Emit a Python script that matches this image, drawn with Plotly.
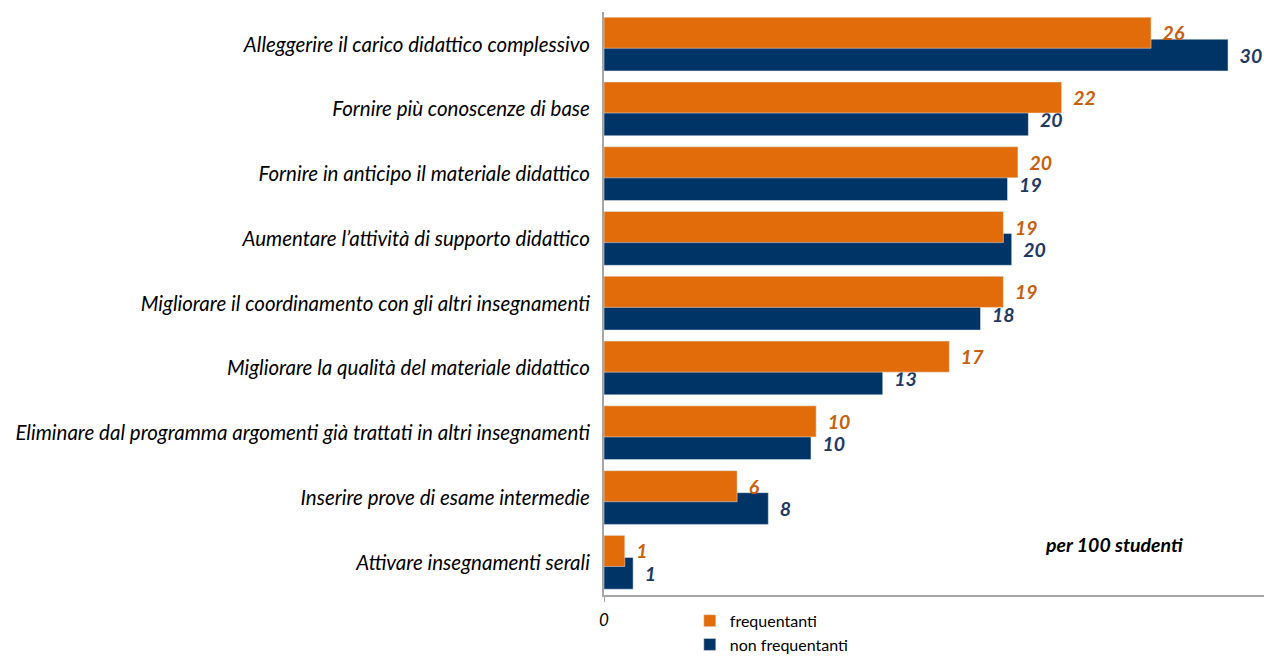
import plotly.graph_objects as go

categories = [
    "Alleggerire il carico didattico complessivo",
    "Fornire più conoscenze di base",
    "Fornire in anticipo il materiale didattico",
    "Aumentare l’attività di supporto didattico",
    "Migliorare il coordinamento con gli altri insegnamenti",
    "Migliorare la qualità del materiale didattico",
    "Eliminare dal programma argomenti già trattati in altri insegnamenti",
    "Inserire prove di esame intermedie",
    "Attivare insegnamenti serali",
]
frequentanti = [26.3, 22.0, 19.9, 19.2, 19.2, 16.6, 10.2, 6.4, 1.0]
non_frequentanti = [30.0, 20.4, 19.4, 19.6, 18.1, 13.4, 9.95, 7.9, 1.4]

ORANGE = "#E36C0A"
NAVY = "#003366"
FONT = "Lato"

fig = go.Figure()
# navy first so the orange bar is drawn over the overlap
fig.add_trace(go.Bar(
    name="non frequentanti", y=categories, x=non_frequentanti, orientation="h",
    marker_color=NAVY, width=0.49, offset=-0.08,
    texttemplate="  %{x:.0f}", textposition="outside", constraintext="none",
    textfont=dict(family=FONT, size=19.5, color="#1F3864", weight="bold", style="italic"),
    cliponaxis=False, legendrank=2,
))
fig.add_trace(go.Bar(
    name="frequentanti", y=categories, x=frequentanti, orientation="h",
    marker_color=ORANGE, width=0.48, offset=-0.42,
    texttemplate="  %{x:.0f}", textposition="outside", constraintext="none",
    textfont=dict(family=FONT, size=19.5, color="#C9600E", weight="bold", style="italic"),
    cliponaxis=False, legendrank=1,
))

fig.update_layout(
    width=1264, height=658,
    margin=dict(l=604, r=0, t=12, b=63, autoexpand=False),
    barmode="overlay",
    plot_bgcolor="white", paper_bgcolor="white",
    font=dict(family=FONT, color="#000000"),
    showlegend=True,
    legend=dict(x=0.13, y=-0.015, xanchor="left", yanchor="top",
                font=dict(family=FONT, size=16), tracegroupgap=0, itemwidth=30),
    annotations=[dict(text="per 100 studenti", x=0.88, y=0.086, xref="paper", yref="paper",
                      xanchor="right", yanchor="middle", showarrow=False,
                      font=dict(family=FONT, size=19.5, weight="bold", style="italic"))],
)
fig.update_yaxes(
    autorange="reversed", showline=True, linecolor="#A6A6A6", linewidth=2,
    ticks="", ticklabelstandoff=8,
    tickfont=dict(family=FONT, size=20.5, style="italic"),
)
fig.update_xaxes(
    range=[0, 31.73], showgrid=False, zeroline=False, showline=True,
    linecolor="#A6A6A6", linewidth=2, tickvals=[0], ticktext=["0"],
    ticks="outside", ticklen=5, tickcolor="#A6A6A6", ticklabelstandoff=4,
    tickfont=dict(family=FONT, size=17, style="italic"),
)

# drop the default page margin so the figure sits at the window's corner
fig.write_html(
    "out.html",
    config={"displayModeBar": False},
    post_script="document.body.style.margin='0';document.body.style.overflow='hidden';",
)
